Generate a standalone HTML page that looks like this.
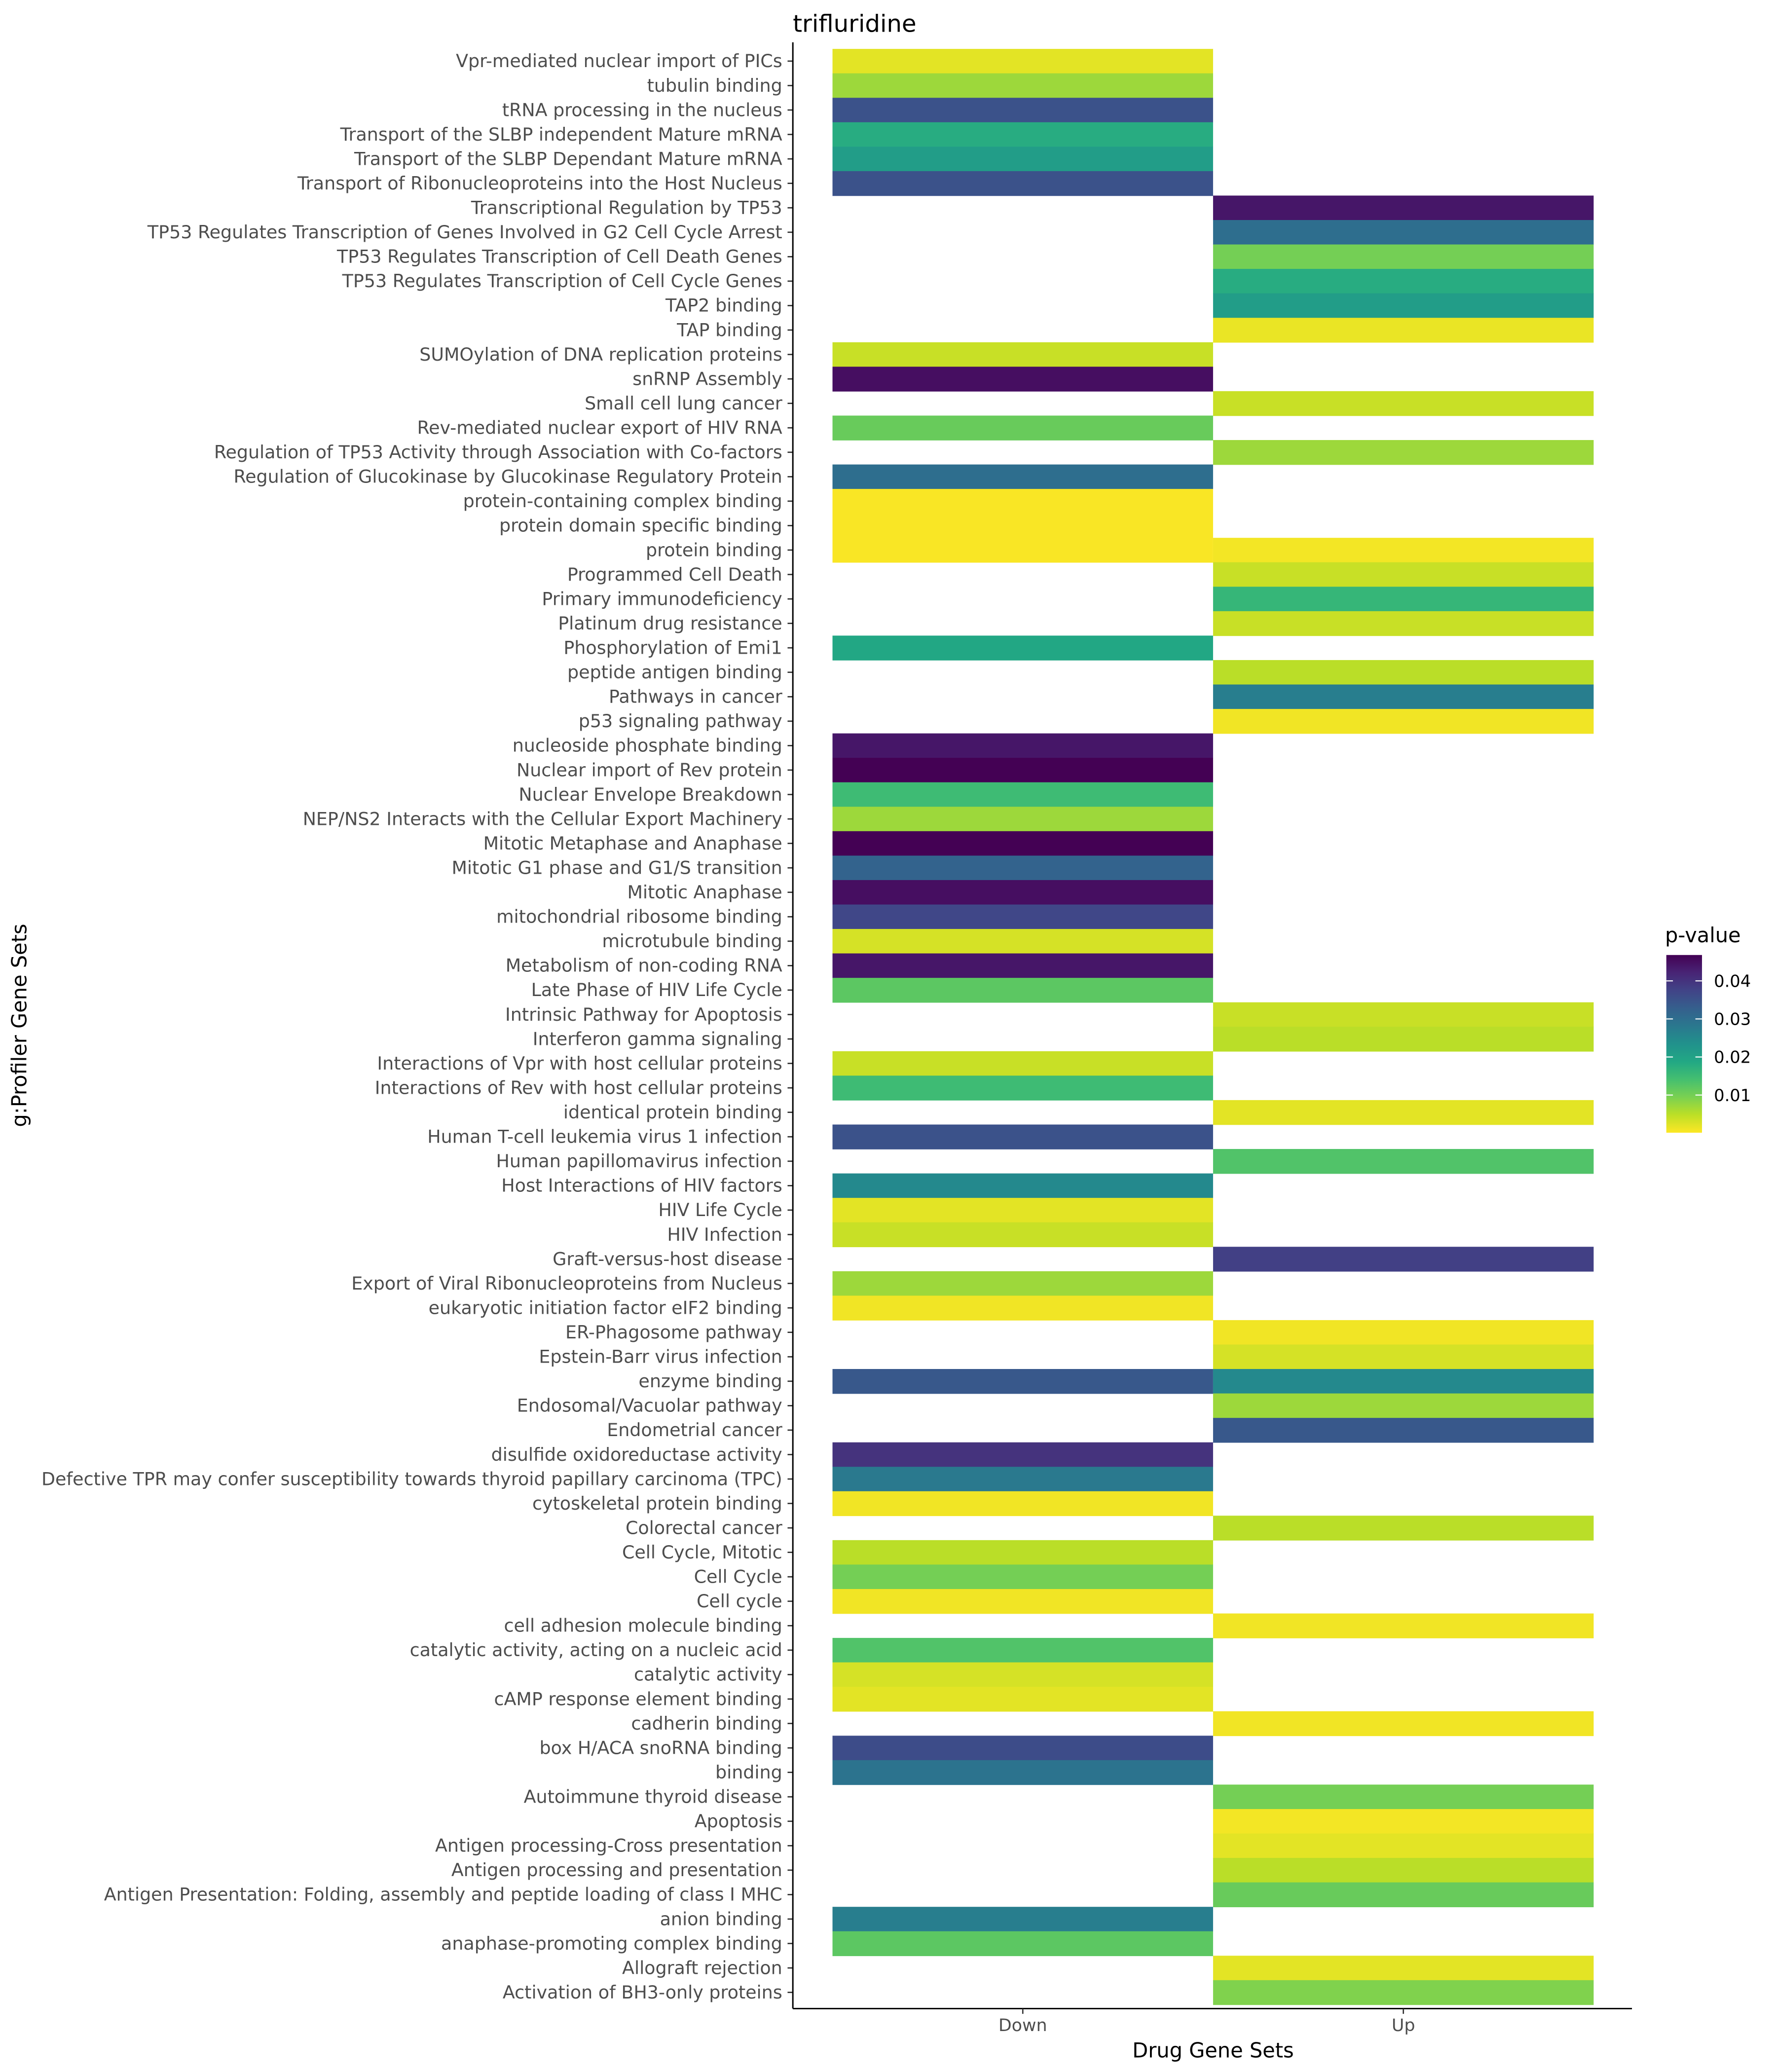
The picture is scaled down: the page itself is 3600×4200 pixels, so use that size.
<!DOCTYPE html>
<html><head><meta charset="utf-8"><style>
html,body{margin:0;padding:0;background:#fff;}
svg{display:block;font-family:"DejaVu Sans","Liberation Sans",sans-serif;}
</style></head><body>
<svg id="chart" width="3600" height="4200" viewBox="0 0 1344 1568" xmlns="http://www.w3.org/2000/svg">
<rect width="1344" height="1568" fill="#fff"/>
<text x="600" y="24" font-size="18" fill="#000">trifluridine</text>
<g id="cells"></g>
<g id="yaxis"></g>
<line x1="600" y1="32" x2="600" y2="1520" stroke="#000" stroke-width="1.1"/>
<line x1="600" y1="1520" x2="1235" y2="1520" stroke="#000" stroke-width="1.1"/>
<g id="xaxis"></g>
<text x="918" y="1557" font-size="15.5" text-anchor="middle" fill="#000">Drug Gene Sets</text>
<text transform="translate(20,776) rotate(-90)" font-size="15.5" text-anchor="middle" fill="#000">g:Profiler Gene Sets</text>
<g id="legend">
<text x="1260" y="713" font-size="15.5" fill="#000">p-value</text>
<defs><linearGradient id="vg" x1="0" y1="1" x2="0" y2="0"></linearGradient></defs>
<rect x="1261" y="722.7" width="27" height="134.5" fill="url(#vg)"/>
<g id="ltick"></g>
</g>
</svg>
<script>
const labels=["Vpr-mediated nuclear import of PICs","tubulin binding","tRNA processing in the nucleus","Transport of the SLBP independent Mature mRNA","Transport of the SLBP Dependant Mature mRNA","Transport of Ribonucleoproteins into the Host Nucleus","Transcriptional Regulation by TP53","TP53 Regulates Transcription of Genes Involved in G2 Cell Cycle Arrest","TP53 Regulates Transcription of Cell Death Genes","TP53 Regulates Transcription of Cell Cycle Genes","TAP2 binding","TAP binding","SUMOylation of DNA replication proteins","snRNP Assembly","Small cell lung cancer","Rev-mediated nuclear export of HIV RNA","Regulation of TP53 Activity through Association with Co-factors","Regulation of Glucokinase by Glucokinase Regulatory Protein","protein-containing complex binding","protein domain specific binding","protein binding","Programmed Cell Death","Primary immunodeficiency","Platinum drug resistance","Phosphorylation of Emi1","peptide antigen binding","Pathways in cancer","p53 signaling pathway","nucleoside phosphate binding","Nuclear import of Rev protein","Nuclear Envelope Breakdown","NEP/NS2 Interacts with the Cellular Export Machinery","Mitotic Metaphase and Anaphase","Mitotic G1 phase and G1/S transition","Mitotic Anaphase","mitochondrial ribosome binding","microtubule binding","Metabolism of non-coding RNA","Late Phase of HIV Life Cycle","Intrinsic Pathway for Apoptosis","Interferon gamma signaling","Interactions of Vpr with host cellular proteins","Interactions of Rev with host cellular proteins","identical protein binding","Human T-cell leukemia virus 1 infection","Human papillomavirus infection","Host Interactions of HIV factors","HIV Life Cycle","HIV Infection","Graft-versus-host disease","Export of Viral Ribonucleoproteins from Nucleus","eukaryotic initiation factor eIF2 binding","ER-Phagosome pathway","Epstein-Barr virus infection","enzyme binding","Endosomal/Vacuolar pathway","Endometrial cancer","disulfide oxidoreductase activity","Defective TPR may confer susceptibility towards thyroid papillary carcinoma (TPC)","cytoskeletal protein binding","Colorectal cancer","Cell Cycle, Mitotic","Cell Cycle","Cell cycle","cell adhesion molecule binding","catalytic activity, acting on a nucleic acid","catalytic activity","cAMP response element binding","cadherin binding","box H/ACA snoRNA binding","binding","Autoimmune thyroid disease","Apoptosis","Antigen processing-Cross presentation","Antigen processing and presentation","Antigen Presentation: Folding, assembly and peptide loading of class I MHC","anion binding","anaphase-promoting complex binding","Allograft rejection","Activation of BH3-only proteins"];
const columns=["Down","Up"];
const downP=[0.002,0.007,0.035,0.018,0.021,0.035,null,null,null,null,null,null,0.004,0.045,null,0.011,null,0.03,0.0004,0.0004,0.0004,null,null,null,0.019,null,null,null,0.044,0.0468,0.015,0.007,0.047,0.032,0.045,0.037,0.003,0.044,0.012,null,null,0.004,0.015,null,0.035,null,0.025,0.002,0.004,null,0.007,0.001,null,null,0.034,null,null,0.04,0.028,0.001,null,0.005,0.01,0.001,null,0.013,0.003,0.002,null,0.036,0.029,null,null,null,null,null,0.027,0.012,null,null];
const upP=[null,null,null,null,null,null,0.044,0.03,0.01,0.018,0.021,0.0015,null,null,0.004,null,0.007,null,null,null,0.0008,0.004,0.016,0.004,null,0.005,0.027,0.001,null,null,null,null,null,null,null,null,null,null,null,0.004,0.005,null,null,0.002,null,0.013,null,null,null,0.038,null,null,0.001,0.003,0.025,0.007,0.034,null,null,null,0.005,null,null,null,0.001,null,null,null,0.001,null,null,0.01,0.0008,0.002,0.005,0.011,null,null,0.002,0.009];
const legendTicks=[0.01,0.02,0.03,0.04];
const pMin=0.0001,pMax=0.0468;
const vir=["#fde725","#bddf26","#7ad151","#44bf70","#22a884","#21918c","#2a788e","#355f8d","#414487","#482475","#440154"];
function hx(c){return [1,3,5].map(i=>parseInt(c.substr(i,2),16));}
function color(p){let t=(p-pMin)/(pMax-pMin);t=Math.max(0,Math.min(1,t));const f=t*(vir.length-1),i=Math.min(vir.length-2,Math.floor(f)),r=f-i;const a=hx(vir[i]),b=hx(vir[i+1]);return "rgb("+a.map((v,k)=>Math.round(v+(b[k]-v)*r)).join(",")+")";}
const NS="http://www.w3.org/2000/svg";
const top0=37,rowH=(1517-37)/labels.length;
const colX=c=>630+c*288, colW=288;
const yPos=i=>top0+i*rowH;
const pToY=p=>857.2-(p-pMin)/(pMax-pMin)*134.5;
const cells=document.getElementById('cells'),ya=document.getElementById('yaxis'),xa=document.getElementById('xaxis');
[downP,upP].forEach((arr,c)=>{arr.forEach((p,i)=>{if(p==null)return;const r=document.createElementNS(NS,'rect');


r.setAttribute('x',colX(c));r.setAttribute('y',yPos(i));r.setAttribute('width',colW);r.setAttribute('height',rowH+0.3);r.setAttribute('fill',color(p));cells.appendChild(r);});});
labels.forEach((l,i)=>{const y=yPos(i)+rowH/2;const t=document.createElementNS(NS,'text');


t.setAttribute('x',592);t.setAttribute('y',y+4.6);t.setAttribute('font-size','13.6');t.setAttribute('text-anchor','end');t.setAttribute('fill','#4d4d4d');t.textContent=l;ya.appendChild(t);
const k=document.createElementNS(NS,'line');


k.setAttribute('x1',596);k.setAttribute('x2',600);k.setAttribute('y1',y);k.setAttribute('y2',y);k.setAttribute('stroke','#333');k.setAttribute('stroke-width','1');ya.appendChild(k);});
columns.forEach((c,j)=>{const x=colX(j)+colW/2;const t=document.createElementNS(NS,'text');


t.setAttribute('x',x);t.setAttribute('y',1537);t.setAttribute('font-size','13');t.setAttribute('text-anchor','middle');t.setAttribute('fill','#4d4d4d');t.textContent=c;xa.appendChild(t);
const k=document.createElementNS(NS,'line');


k.setAttribute('x1',x);k.setAttribute('x2',x);k.setAttribute('y1',1520);k.setAttribute('y2',1524);k.setAttribute('stroke','#333');xa.appendChild(k);});
const g=document.getElementById('vg');
vir.forEach((c,i)=>{const s=document.createElementNS(NS,'stop');s.setAttribute('offset',(i/(vir.length-1)));s.setAttribute('stop-color',c);g.appendChild(s);});
const lt=document.getElementById('ltick');
legendTicks.forEach(v=>{const y=pToY(v);
[[1261,1266],[1283,1288]].forEach(([a,b])=>{const k=document.createElementNS(NS,'line');


k.setAttribute('x1',a);k.setAttribute('x2',b);k.setAttribute('y1',y);k.setAttribute('y2',y);k.setAttribute('stroke','#fff');k.setAttribute('stroke-width','0.8');lt.appendChild(k);});
const t=document.createElementNS(NS,'text');


t.setAttribute('x',1297);t.setAttribute('y',y+4.5);t.setAttribute('font-size','12.6');t.setAttribute('fill','#000');t.textContent=v.toFixed(2);lt.appendChild(t);});
</script>
</body></html>
